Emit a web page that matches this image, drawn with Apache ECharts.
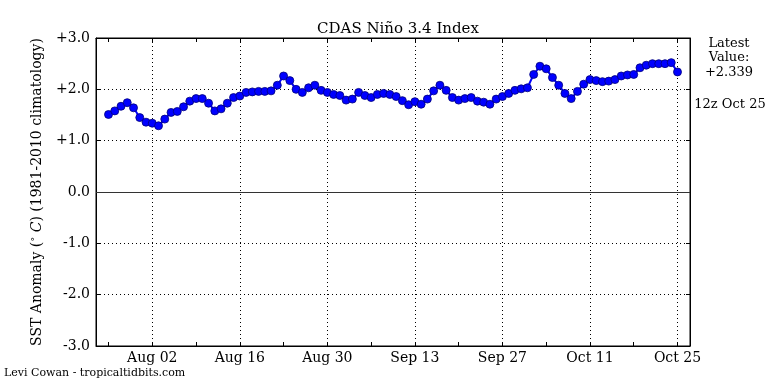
<!DOCTYPE html>
<html>
<head>
<meta charset="utf-8">
<script src="https://cdn.jsdelivr.net/npm/echarts@6/dist/echarts.min.js"></script>
<style>html,body{margin:0;padding:0;background:#fff}#c{width:768px;height:384px}</style>
</head>
<body>
<div id="c"></div>
<script>
// Axis span (days) and data start
const axisStart = [2025, 6, 24];   // Jul 24 (month 0-based)
const axisDays = 96;               // Jul 24 .. Oct 27
const dataStartIndex = 2;          // first observation: Jul 26
const tickLabels = ['Aug 02', 'Aug 16', 'Aug 30', 'Sep 13', 'Sep 27', 'Oct 11', 'Oct 25'];
const yTicks = [-3, -2, -1, 0, 1, 2, 3];
// Daily Niño 3.4 SST anomaly, Jul 26 .. Oct 25
const anomaly = [
  1.51, 1.58, 1.67, 1.74, 1.64, 1.45, 1.36, 1.34, 1.29, 1.42,
  1.55, 1.57, 1.66, 1.77, 1.82, 1.82, 1.73, 1.58, 1.62, 1.73,
  1.84, 1.87, 1.94, 1.95, 1.96, 1.96, 1.97, 2.08, 2.26, 2.17,
  2.00, 1.94, 2.03, 2.08, 1.98, 1.94, 1.90, 1.88, 1.79, 1.81,
  1.94, 1.88, 1.84, 1.90, 1.92, 1.90, 1.86, 1.78, 1.70, 1.76,
  1.71, 1.81, 1.97, 2.08, 1.98, 1.84, 1.79, 1.82, 1.84, 1.77,
  1.75, 1.71, 1.81, 1.86, 1.92, 1.98, 2.01, 2.03, 2.29, 2.45,
  2.40, 2.23, 2.08, 1.92, 1.82, 1.96, 2.10, 2.19, 2.17, 2.15,
  2.16, 2.19, 2.26, 2.28, 2.29, 2.42, 2.47, 2.50, 2.50, 2.50,
  2.52, 2.339
];
const latestText = ['Latest', 'Value:', '+2.339'];
const latestTime = '12z Oct 25';

const MONTHS = ['Jan','Feb','Mar','Apr','May','Jun','Jul','Aug','Sep','Oct','Nov','Dec'];
const categories = [];
for (let i = 0; i < axisDays; i++) {
  const d = new Date(axisStart[0], axisStart[1], axisStart[2] + i);
  categories.push(MONTHS[d.getMonth()] + ' ' + String(d.getDate()).padStart(2, '0'));
}
const seriesData = anomaly.map((v, i) => [categories[dataStartIndex + i], v]);
const labelIdx = tickLabels.map(t => categories.indexOf(t));
const FONT = 'DejaVu Serif';

const chart = echarts.init(document.getElementById('c'), null, {renderer: 'canvas'});
const dotted = {color: '#000', width: 1, type: [1, 3]};
const tickFn = (i) => (i - dataStartIndex) % 7 === 0;
chart.setOption({
  animation: false,
  backgroundColor: '#fff',
  title: {
    text: 'CDAS Niño 3.4 Index', left: 393, textAlign: 'center', top: 17,
    textStyle: {fontFamily: FONT, fontSize: 15, fontWeight: 'normal', color: '#000'}
  },
  grid: {left: 96, right: 78, top: 38, bottom: 38, show: true, borderColor: '#000', borderWidth: 1, backgroundColor: 'transparent'},
  xAxis: [{
    type: 'category', data: categories, boundaryGap: false, position: 'bottom',
    axisLine: {show: true, onZero: false, lineStyle: {color: '#000'}},
    axisTick: {show: true, inside: true, length: 4, interval: tickFn, lineStyle: {color: '#000'}},
    axisLabel: {interval: (i) => labelIdx.indexOf(i) >= 0, fontFamily: FONT, fontSize: 14, color: '#000', margin: 5},
    splitLine: {show: true, interval: (i) => labelIdx.indexOf(i) >= 0, lineStyle: dotted}
  }, {
    type: 'category', data: categories, boundaryGap: false, position: 'top',
    axisLine: {show: true, onZero: false, lineStyle: {color: '#000'}},
    axisTick: {show: true, inside: true, length: 4, interval: tickFn, lineStyle: {color: '#000'}},
    axisLabel: {show: false}, splitLine: {show: false}
  }],
  yAxis: [{
    type: 'value', min: yTicks[0], max: yTicks[yTicks.length - 1], interval: 1, position: 'left',
    name: '{a|SST Anomaly (}{b|°}{c| C}{a|) (1981-2010 climatology)}',
    nameLocation: 'middle', nameGap: 52, nameRotate: 90,
    nameTextStyle: {
      fontFamily: FONT, fontSize: 14, color: '#000',
      rich: {
        a: {fontFamily: FONT, fontSize: 14, color: '#000'},
        b: {fontFamily: FONT, fontSize: 10, color: '#000', verticalAlign: 'top', padding: [0, 0, 4, 0]},
        c: {fontFamily: FONT, fontSize: 14, color: '#000', fontStyle: 'italic'}
      }
    },
    axisLine: {show: true, onZero: false, lineStyle: {color: '#000'}},
    axisTick: {show: true, inside: true, length: 4, lineStyle: {color: '#000'}},
    axisLabel: {fontFamily: FONT, fontSize: 14, color: '#000', margin: 6,
      formatter: (v) => (v > 0 ? '+' : '') + v.toFixed(1)},
    splitLine: {show: true, lineStyle: dotted}
  }, {
    type: 'value', min: yTicks[0], max: yTicks[yTicks.length - 1], interval: 1, position: 'right',
    axisLine: {show: true, onZero: false, lineStyle: {color: '#000'}},
    axisTick: {show: true, inside: true, length: 4, lineStyle: {color: '#000'}},
    axisLabel: {show: false}, splitLine: {show: false}
  }],
  series: [{
    type: 'line', data: seriesData, xAxisIndex: 0, yAxisIndex: 0,
    symbol: 'circle', symbolSize: 8, showSymbol: true, showAllSymbol: true,
    lineStyle: {color: '#0000ff', width: 2},
    itemStyle: {color: '#0000ff', borderColor: '#00007a', borderWidth: 0.8},
    markLine: {
      silent: true, symbol: 'none', label: {show: false},
      lineStyle: {color: '#333', width: 1, type: 'solid'},
      data: [{yAxis: 0}]
    },
    z: 5
  }],
  graphic: [
    ...latestText.map((t, i) => ({
      type: 'text', x: 729, y: 37 + i * 14.5,
      style: {text: t, fontFamily: FONT, fontSize: 13, fill: '#000', textAlign: 'center'}
    })),
    {type: 'text', x: 730, y: 98,
      style: {text: latestTime, fontFamily: FONT, fontSize: 13, fill: '#000', textAlign: 'center'}},
    {type: 'text', x: 4, y: 368,
      style: {text: 'Levi Cowan - tropicaltidbits.com', fontFamily: FONT, fontSize: 11, fill: '#000'}}
  ]
});
</script>
</body>
</html>
